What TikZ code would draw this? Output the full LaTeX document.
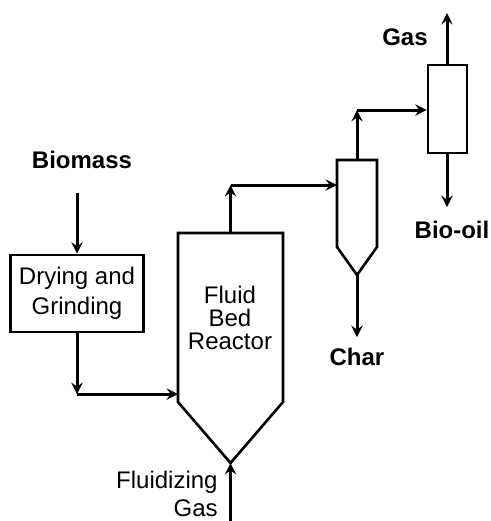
\documentclass[tikz,border=0pt]{standalone}
\usepackage{fontspec}
\setmainfont{Liberation Sans}
\usetikzlibrary{calc}

\begin{document}
\begin{tikzpicture}[x=0.5pt, y=-0.5pt,
    flow/.style={->, >=stealth, line width=1.5pt},
    vessel/.style={draw, line width=1.3pt, line join=miter},
    lbl/.style={font=\fontsize{12}{14}\selectfont\bfseries, inner sep=1pt},
    txt/.style={font=\fontsize{12}{14}\selectfont, inner sep=1pt, align=center}]
  \useasboundingbox (0,0) rectangle (491,521);
  \foreach \name/\xl/\xr/\yt/\yb/\ya in {
    reac/178/283/233/402/463, cyc/337/377/160/247/275}
  {
    \draw[vessel] (\xl,\yt) -- (\xr,\yt) -- (\xr,\yb) -- ({(\xl+\xr)/2},\ya)
      -- (\xl,\yb) -- cycle;
    \coordinate (\name-top) at ({(\xl+\xr)/2},\yt);
    \coordinate (\name-apex) at ({(\xl+\xr)/2},\ya);
  }
  \coordinate (reac-in) at (178,394);
  \coordinate (cyc-in) at (337,185);
  \node[vessel, minimum width=66.5pt, minimum height=38.5pt] (dry) at (77,293.5) {};
  \node[txt, font=\fontsize{12}{15}\selectfont] at (dry) {Drying and\\Grinding};
  \node[vessel, minimum width=19.5pt, minimum height=44pt] (cond) at (447.5,109) {};
  \node[txt, font=\fontsize{12}{11.5}\selectfont] (reac-lbl) at (230,318) {Fluid\\Bed\\Reactor};
  \node[lbl] (biomass) at (82,160) {Biomass};
  \node[lbl] (gas) at (405,37) {Gas};
  \node[lbl] (oil) at (452,230) {Bio-oil};
  \node[lbl] (char) at (357,357) {Char};
  \node[txt, align=right, anchor=east, font=\fontsize{12}{14}\selectfont] (fluid) at (220,494) {Fluidizing\\Gas};
  % corners and free ends
  \coordinate (bin) at (77,193);
  \coordinate (c1) at (77,394);
  \coordinate (c2) at (230.5,185);
  \coordinate (c3) at (357,110);
  \coordinate (gout) at (447,13);
  \coordinate (oout) at (447,207);
  \coordinate (chout) at (357,337);
  \coordinate (fin) at (230.5,521);
  \draw[flow] (bin) -- (dry.north);
  \draw[flow] (dry.south) -- (c1);
  \draw[flow] (c1) -- (reac-in);
  \draw[flow] (reac-top) -- (c2);
  \draw[flow] (c2) -- (cyc-in);
  \draw[flow] (cyc-top) -- (c3);
  \draw[flow] (c3) -- (c3 -| cond.west);
  \draw[flow] (cond.north -| gout) -- (gout);
  \draw[flow] (cond.south -| oout) -- (oout);
  \draw[flow] (cyc-apex) -- (chout);
  \draw[flow] (fin) -- (reac-apex);
\end{tikzpicture}
\end{document}
